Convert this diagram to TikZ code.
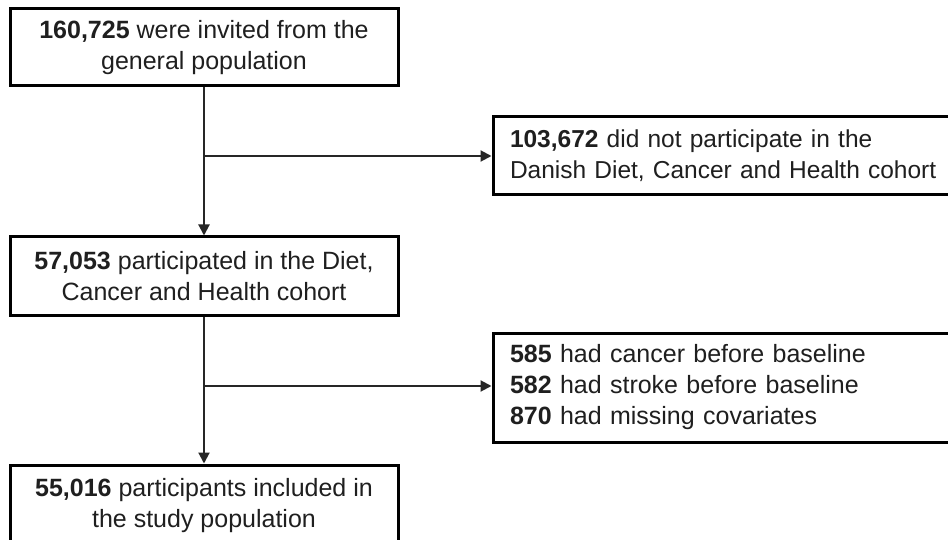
\documentclass[tikz,border=0pt]{standalone}
\usepackage{fontspec}
\setmainfont{Liberation Sans}
\usetikzlibrary{arrows.meta}
\tikzset{
  box/.style={draw=black, line width=3pt, rectangle, inner sep=0pt,
    font=\fontsize{25}{31}\selectfont, text=black!88},
  lbox/.style={box, minimum width=388pt, align=center},
  rbox/.style={box, text width=470pt, inner xsep=17pt, align=left, minimum width=504pt},
  conn/.style={draw=black!85, line width=2pt},
  arr/.style={conn, -{Triangle[length=11pt,width=11pt]}}
}
\begin{document}
\begin{tikzpicture}[x=1pt,y=-1pt]
\useasboundingbox (0,0) rectangle (948,540);
\clip (0,0) rectangle (948,540);
\fill[white] (0,0) rectangle (948,540);
\node[lbox, minimum height=77pt] (b1) at (204,47.5) {\textbf{160,725} were invited from the\\general population};
\node[rbox, minimum height=78pt, font=\fontsize{24.5}{31}\selectfont] (b2) at (745,156) {\textbf{103,672} did not participate in the\\Danish Diet, Cancer and Health cohort};
\node[lbox, minimum height=78pt] (b3) at (204,276) {\textbf{57,053} participated in the Diet,\\Cancer and Health cohort};
\node[rbox, minimum height=109pt] (b4) at (745,387.5) {\textbf{585} had cancer before baseline\\\textbf{582} had stroke before baseline\\\textbf{870} had missing covariates};
\node[lbox, minimum height=82pt] (b5) at (204,506) {\textbf{55,016} participants included in\\the study population};
\coordinate (j1) at (b1.south |- b2.west);
\coordinate (j2) at (b3.south |- 0,386);
\draw[arr] (b1.south) -- (b3.north);
\draw[arr] (j1) -- (b2.west);
\draw[arr] (b3.south) -- (b5.north);
\draw[arr] (j2) -- (j2 -| b4.west);
\end{tikzpicture}
\end{document}
